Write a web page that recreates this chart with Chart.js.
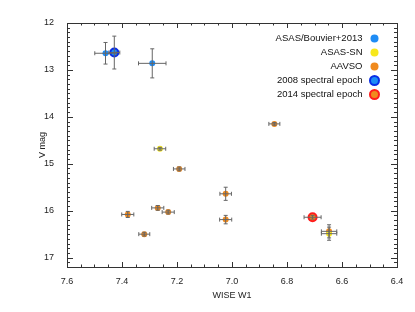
<!DOCTYPE html>
<html>
<head>
<meta charset="utf-8">
<script src="https://cdn.jsdelivr.net/npm/chart.js@4.4.0/dist/chart.umd.min.js"></script>
<style>
  html, body { margin: 0; padding: 0; background: #fff; }
  #box { width: 415px; height: 312px; }
</style>
</head>
<body>
<div id="box"><canvas id="grafico"></canvas></div>
<script>
// Dados
var asasX = [7.46, 7.428, 7.29];
var asasY = [12.645, 12.63, 12.86];
var asasXErr = [0.039, 0.02, 0.05];
var asasYErr = [0.23, 0.35, 0.31];

var snX = [7.262, 6.647];
var snY = [14.68, 16.49];
var snXErr = [0.021, 0.028];
var snYErr = [0.03, 0.14];

var aavsoX = [6.846, 7.192, 7.023, 7.27, 7.232, 7.379, 7.023, 7.319, 6.647, 6.707];
var aavsoY = [14.15, 15.11, 15.64, 15.94, 16.03, 16.08, 16.19, 16.50, 16.44, 16.14];
var aavsoXErr = [0.02, 0.021, 0.021, 0.022, 0.022, 0.022, 0.022, 0.02, 0.028, 0.031];
var aavsoYErr = [0.03, 0.04, 0.14, 0.05, 0.04, 0.065, 0.09, 0.04, 0.14, 0.04];

var epoch2008X = [7.428];
var epoch2008Y = [12.63];
var epoch2014X = [6.707];
var epoch2014Y = [16.14];

var xTicks = [7.6, 7.4, 7.2, 7.0, 6.8, 6.6, 6.4];
var yTicks = [12, 13, 14, 15, 16, 17];

function pontos(xs, ys) {
    var lista = [];
    for (var i = 0; i < xs.length; i++) {
        lista.push({ x: xs[i], y: ys[i] });
    }
    return lista;
}

var fonte = 'Liberation Sans, Arial, sans-serif';

// barras de erro desenhadas por cima dos pontos
var errosPlugin = {
    id: 'erros',
    afterDatasetsDraw: function (chart) {
        var ctx = chart.ctx;
        var xs = chart.scales.x;
        var ys = chart.scales.y;
        var grupos = [
            [aavsoX, aavsoY, aavsoXErr, aavsoYErr],
            [asasX, asasY, asasXErr, asasYErr],
            [snX, snY, snXErr, snYErr]
        ];
        ctx.save();
        ctx.strokeStyle = '#666';
        ctx.lineWidth = 1;
        var cap = 2;
        for (var g = 0; g < grupos.length; g++) {
            var gx = grupos[g][0], gy = grupos[g][1], ex = grupos[g][2], ey = grupos[g][3];
            for (var i = 0; i < gx.length; i++) {
                var px = xs.getPixelForValue(gx[i]);
                var py = ys.getPixelForValue(gy[i]);
                var x1 = xs.getPixelForValue(gx[i] - ex[i]);
                var x2 = xs.getPixelForValue(gx[i] + ex[i]);
                var y1 = ys.getPixelForValue(gy[i] - ey[i]);
                var y2 = ys.getPixelForValue(gy[i] + ey[i]);
                ctx.beginPath();
                ctx.moveTo(x1, py); ctx.lineTo(x2, py);
                ctx.moveTo(x1, py - cap); ctx.lineTo(x1, py + cap);
                ctx.moveTo(x2, py - cap); ctx.lineTo(x2, py + cap);
                ctx.moveTo(px, y1); ctx.lineTo(px, y2);
                ctx.moveTo(px - cap, y1); ctx.lineTo(px + cap, y1);
                ctx.moveTo(px - cap, y2); ctx.lineTo(px + cap, y2);
                ctx.stroke();
            }
        }
        ctx.restore();
    }
};

// moldura com marcas para dentro nos quatro lados
var molduraPlugin = {
    id: 'moldura',
    afterDraw: function (chart) {
        var ctx = chart.ctx;
        var a = chart.chartArea;
        var xs = chart.scales.x;
        var ys = chart.scales.y;
        ctx.save();
        ctx.strokeStyle = '#333';
        ctx.lineWidth = 1;
        ctx.strokeRect(Math.round(a.left) + 0.5, Math.round(a.top) + 0.5,
            Math.round(a.right - a.left), Math.round(a.bottom - a.top));
        ctx.beginPath();
        for (var k = 0; k <= 24; k++) {
            var vx = 6.4 + k * 0.05;
            var px = Math.round(xs.getPixelForValue(vx)) + 0.5;
            var lx = (k % 4 === 0) ? 5 : 2.5;
            ctx.moveTo(px, a.bottom); ctx.lineTo(px, a.bottom - lx);
            ctx.moveTo(px, a.top); ctx.lineTo(px, a.top + lx);
        }
        for (var j = 0; j <= 52; j++) {
            var vy = 12 + j * 0.1;
            var py = Math.round(ys.getPixelForValue(vy)) + 0.5;
            var ly = (j % 10 === 0) ? 6 : 3;
            ctx.moveTo(a.left, py); ctx.lineTo(a.left + ly, py);
            ctx.moveTo(a.right, py); ctx.lineTo(a.right - ly, py);
        }
        ctx.stroke();
        ctx.restore();
    }
};

// legenda com o texto à esquerda e o símbolo à direita
var legendaPlugin = {
    id: 'legendaDireita',
    afterDraw: function (chart) {
        var ctx = chart.ctx;
        var a = chart.chartArea;
        var itens = [
            { texto: 'ASAS/Bouvier+2013', cor: '#1e8cf5', borda: null },
            { texto: 'ASAS-SN', cor: '#f7e81c', borda: null },
            { texto: 'AAVSO', cor: '#f08a1e', borda: null },
            { texto: '2008 spectral epoch', cor: '#1e8cf5', borda: '#0a2ee6' },
            { texto: '2014 spectral epoch', cor: '#f08a1e', borda: '#ff1c1c' }
        ];
        var mx = a.right - 22.5;
        ctx.save();
        ctx.font = '9.5px ' + fonte;
        ctx.textAlign = 'right';
        ctx.textBaseline = 'middle';
        for (var i = 0; i < itens.length; i++) {
            var yy = a.top + 15.5 + i * 14;
            ctx.fillStyle = '#111';
            ctx.fillText(itens[i].texto, mx - 12, yy);
            ctx.beginPath();
            if (itens[i].borda) {
                ctx.arc(mx, yy, 5.5, 0, Math.PI * 2);
                ctx.fillStyle = itens[i].borda;
                ctx.fill();
                ctx.beginPath();
                ctx.arc(mx, yy, 3.5, 0, Math.PI * 2);
            } else {
                ctx.arc(mx, yy, 4, 0, Math.PI * 2);
            }
            ctx.fillStyle = itens[i].cor;
            ctx.fill();
        }
        ctx.restore();
    }
};

var ctx = document.getElementById('grafico');
new Chart(ctx, {
    type: 'scatter',
    data: {
        datasets: [
            {
                label: 'ASAS-SN',
                data: pontos(snX, snY),
                backgroundColor: '#f7e81c',
                borderWidth: 0,
                pointRadius: 3,
                order: 1
            },
            {
                label: 'ASAS/Bouvier+2013',
                data: pontos(asasX, asasY),
                backgroundColor: '#1e8cf5',
                borderWidth: 0,
                pointRadius: 3,
                order: 2
            },
            {
                label: 'AAVSO',
                data: pontos(aavsoX, aavsoY),
                backgroundColor: '#f08a1e',
                borderWidth: 0,
                pointRadius: 3,
                order: 3
            },
            {
                label: '2008 spectral epoch',
                data: pontos(epoch2008X, epoch2008Y),
                backgroundColor: '#0a2ee6',
                borderWidth: 0,
                pointRadius: 5,
                order: 4
            },
            {
                label: '2014 spectral epoch',
                data: pontos(epoch2014X, epoch2014Y),
                backgroundColor: '#ff1c1c',
                borderWidth: 0,
                pointRadius: 5,
                order: 5
            }
        ]
    },
    options: {
        responsive: true,
        maintainAspectRatio: false,
        animation: false,
        layout: {
            padding: { left: 0, right: 18, top: 23, bottom: 0 }
        },
        scales: {
            x: {
                type: 'linear',
                reverse: true,
                min: 6.4,
                max: 7.6,
                grid: { display: false, drawTicks: false },
                border: { display: false },
                afterBuildTicks: function (scale) {
                    scale.ticks = xTicks.map(function (v) { return { value: v }; });
                },
                afterFit: function (scale) { scale.height = 45; },
                ticks: {
                    padding: 9,
                    maxRotation: 0,
                    autoSkip: false,
                    color: '#222',
                    font: { size: 9, family: fonte },
                    callback: function (v) { return Number(v).toFixed(1); }
                },
                title: {
                    display: true,
                    text: 'WISE W1',
                    color: '#222',
                    font: { size: 9, family: fonte },
                    padding: { top: 0, bottom: 11 }
                }
            },
            y: {
                type: 'linear',
                reverse: true,
                min: 12,
                max: 17.2,
                grid: { display: false, drawTicks: false },
                border: { display: false },
                afterBuildTicks: function (scale) {
                    scale.ticks = yTicks.map(function (v) { return { value: v }; });
                },
                afterFit: function (scale) { scale.width = 67; },
                ticks: {
                    padding: 13,
                    autoSkip: false,
                    color: '#222',
                    font: { size: 9, family: fonte }
                },
                title: {
                    display: true,
                    text: 'V mag',
                    color: '#222',
                    font: { size: 9, family: fonte },
                    padding: { top: 37, bottom: 0 }
                }
            }
        },
        plugins: {
            legend: { display: false },
            tooltip: { enabled: false }
        }
    },
    plugins: [errosPlugin, molduraPlugin, legendaPlugin]
});
</script>
</body>
</html>
